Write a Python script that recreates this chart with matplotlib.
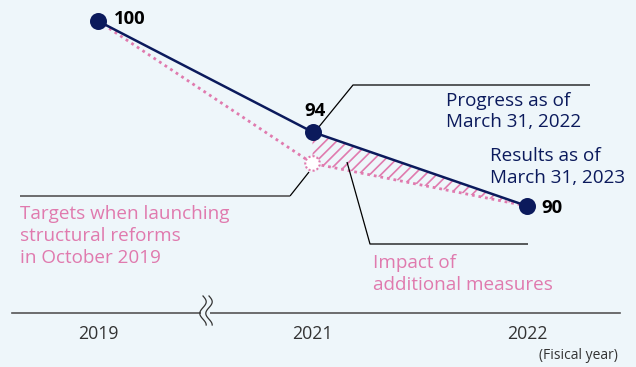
import numpy as np
import matplotlib
matplotlib.use("Agg")
import matplotlib.pyplot as plt
from matplotlib.lines import Line2D

plt.rcParams["font.family"] = ["Open Sans", "DejaVu Sans"]
plt.rcParams["hatch.linewidth"] = 1.2

years = ["2019", "2021", "2022"]
results = [100, 94, 90]
targets = [100, 92.3, 90]

NAVY = "#0b1a5c"
PINK = "#e07aae"
BG = "#eef6fa"
W, H = 636, 367

fig = plt.figure(figsize=(W / 100, H / 100), dpi=100, facecolor=BG)
ax = fig.add_axes([0, 0, 1, 1], facecolor=BG)
ax.set_xlim(-0.457, 2.508)
ax.set_ylim(81.297, 101.135)
ax.axis("off")


def P(x, y):
    # pixel position (from top-left) -> axes fraction
    return x / W, 1 - y / H


xs = np.arange(len(years))

# hatched gap between the results and the original targets
ax.fill_between(xs[1:], targets[1:], results[1:], facecolor="none",
                edgecolor=PINK, hatch="///", linewidth=0, zorder=1)

ax.plot(xs, targets, color=PINK, lw=2, ls=(0, (1, 1.4)), zorder=2)
ax.plot(xs, results, color=NAVY, lw=1.8, zorder=3)
ax.scatter(xs, results, s=150, color=NAVY, zorder=4, linewidths=0)
ax.scatter([xs[1]], [targets[1]], s=110, facecolor="white", edgecolor=PINK,
           linestyle=(0, (1, 1)), linewidths=1.5, zorder=4)

# value labels
for x, v, (px, py) in zip(xs, results, [(114, 24), (304, 116), (541, 213)]):
    ax.text(*P(px, py), f"{v:g}", transform=ax.transAxes, fontsize=13.3,
            fontweight="bold", color="black", va="baseline", ha="left")


def leader(pts, color="black", lw=0.9):
    fx = [p[0] / W for p in pts]
    fy = [1 - p[1] / H for p in pts]
    ax.add_line(Line2D(fx, fy, transform=ax.transAxes, color=color, lw=lw,
                       zorder=2, solid_capstyle="butt"))


leader([(318, 128), (353, 85), (590, 85)])
leader([(347, 162), (370, 244), (528, 244)])
leader([(309, 172), (290, 196)])
leader([(290, 196), (20, 196)], color="#555555", lw=1.2)


def note(x, y, lines, color, step=22):
    for i, line in enumerate(lines):
        ax.text(*P(x, y + i * step), line, transform=ax.transAxes,
                fontsize=13.6, color=color, va="baseline", ha="left")


note(446, 106, ["Progress as of", "March 31, 2022"], NAVY, 21)
note(490, 161, ["Results as of", "March 31, 2023"], NAVY, 22)
note(373, 268, ["Impact of", "additional measures"], PINK, 22)
note(20, 219, ["Targets when launching", "structural reforms",
               "in October 2019"], PINK, 22)

# x axis with a break between 2019 and 2021
ax.add_line(Line2D([12 / W, 620 / W], [1 - 313 / H] * 2, transform=ax.transAxes,
                   color="#555555", lw=1.2, zorder=2))
ax.add_patch(plt.Rectangle(P(201, 320), 9 / W, 14 / H, transform=ax.transAxes,
                           facecolor=BG, edgecolor="none", zorder=3))
t = np.linspace(0, 1, 60)
for xc in (203, 209):
    wx = xc + 3.2 * np.sin(2 * np.pi * 1.25 * t)
    wy = 296 + 29 * t
    ax.add_line(Line2D(wx / W, 1 - wy / H, transform=ax.transAxes,
                       color="#333333", lw=0.9, zorder=4))

for x, label in zip(xs, years):
    ax.annotate(label, xy=(x, 1 - 339 / H), xycoords=ax.get_xaxis_transform(),
                fontsize=12.8, color="#333333", ha="center", va="baseline")
ax.text(*P(618, 359), "(Fisical year)", transform=ax.transAxes, fontsize=10,
        color="#333333", ha="right", va="baseline")

fig.savefig("out.png", dpi=100, facecolor=BG)
